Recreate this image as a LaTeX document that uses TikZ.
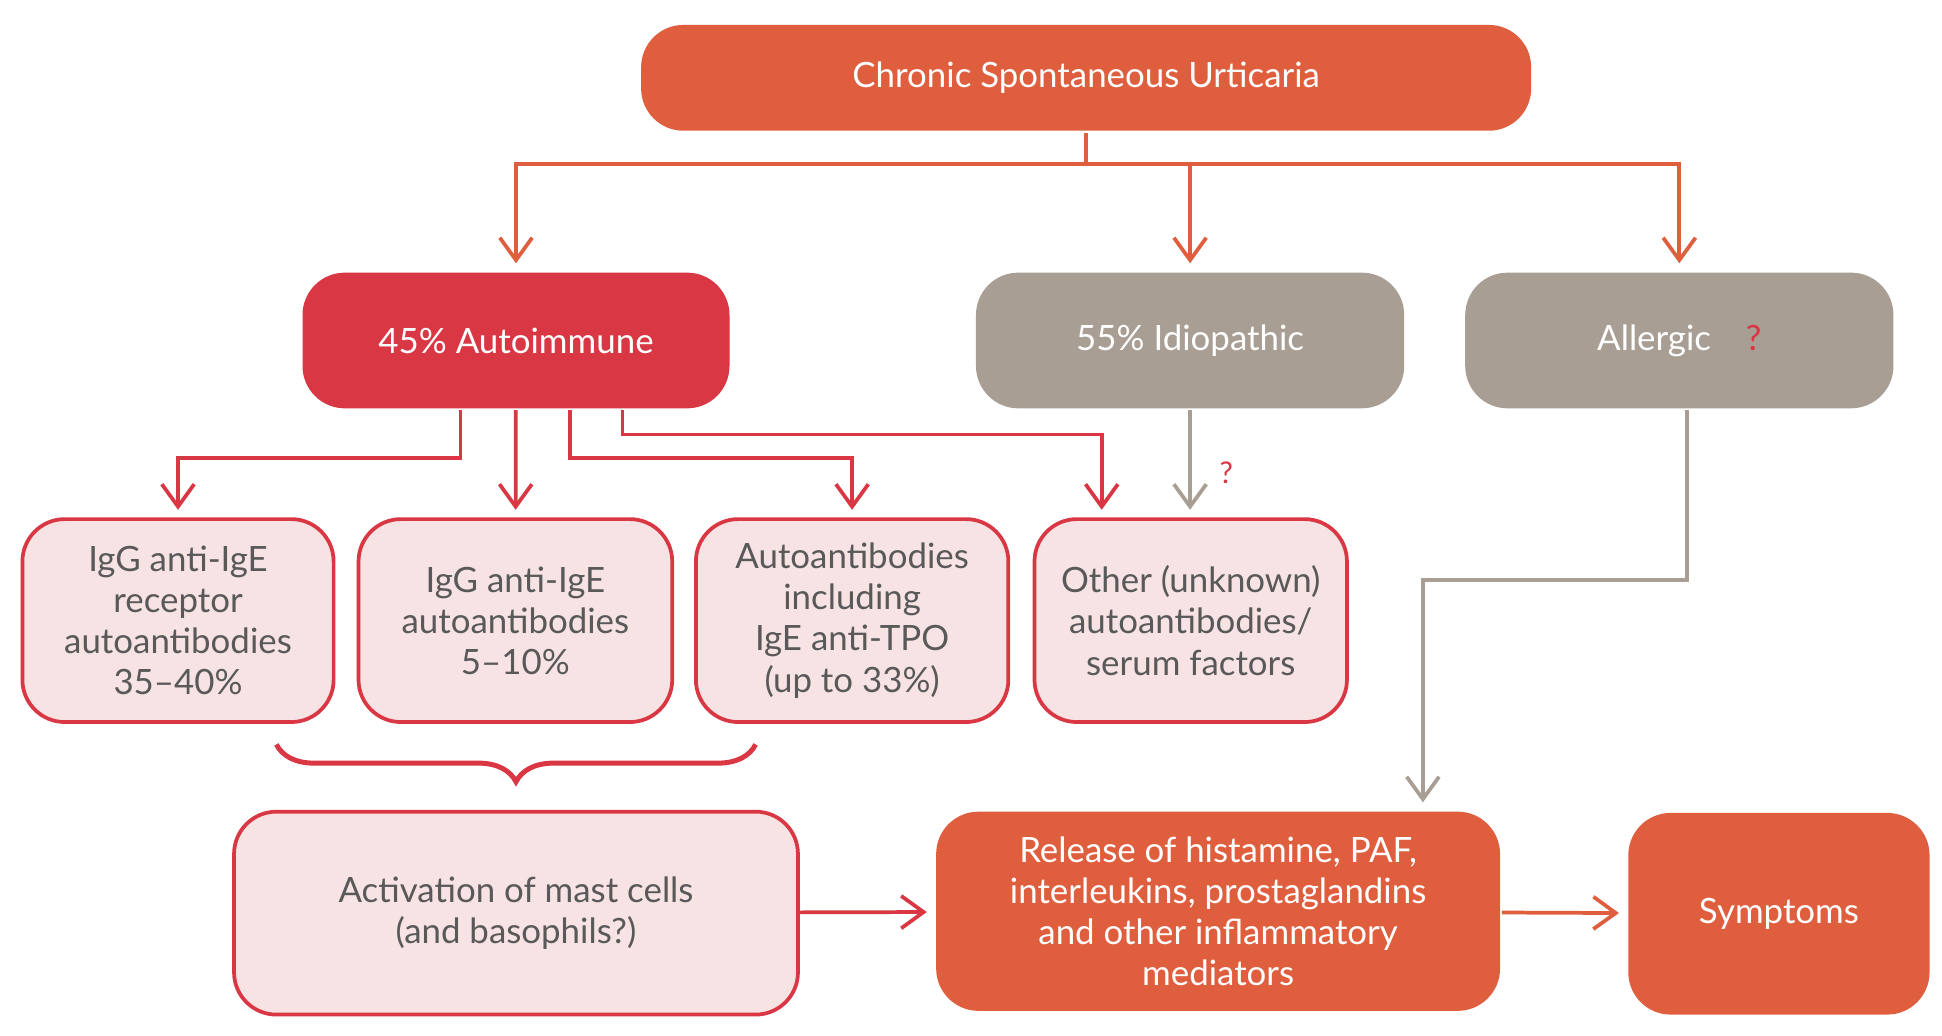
\documentclass[tikz,border=0pt]{standalone}
\usepackage{fontspec}
\setmainfont{Lato}
\usetikzlibrary{arrows.meta,decorations.pathreplacing}
\definecolor{csuorange}{RGB}{223,94,62}
\definecolor{csured}{RGB}{217,55,68}
\definecolor{csugray}{RGB}{168,158,147}
\definecolor{csupink}{RGB}{247,227,227}
\definecolor{csutext}{RGB}{89,89,89}
\tikzset{every picture/.style={line width=1.5pt}}

\begin{document}
\begin{tikzpicture}[x=0.5pt,y=0.5pt,yscale=-1,xscale=1,
	box/.style={rounded corners=17pt,align=center,font=\fontsize{14}{16.5}\selectfont,inner sep=2pt},
	hotbox/.style={box,fill=csuorange,text=white},
	redbox/.style={box,fill=csured,text=white},
	graybox/.style={box,fill=csugray,text=white},
	pinkbox/.style={box,fill=csupink,draw=csured,text=csutext},
	conn/.style={-{Straight Barb[length=9pt,width=13pt]},shorten >=3pt},
	]
	\useasboundingbox (0,0) rectangle (1560,832);

	% top box and the three branches
	\node [hotbox,minimum width=357.5pt,minimum height=42.5pt] (csu) at (872.5,62.5) {Chronic Spontaneous Urticaria};
	\node [redbox,minimum width=171.5pt,minimum height=54.5pt] (auto) at (414.5,273.5) {45\% Autoimmune};
	\node [graybox,minimum width=172pt,minimum height=54.5pt] (idio) at (956,273.5) {55\% Idiopathic};
	\node [graybox,minimum width=172pt,minimum height=54.5pt] (allg) at (1349,273.5) {Allergic\hspace{14pt}\textcolor{csured}{?}};

	% second row
	\node [pinkbox,minimum width=125pt,minimum height=81.5pt] (igr) at (143,498.5) {IgG anti-IgE\\receptor\\autoantibodies\\35–40\%};
	\node [pinkbox,minimum width=126pt,minimum height=81.5pt] (ige) at (414,498.5) {IgG anti-IgE\\autoantibodies\\5–10\%};
	\node [pinkbox,minimum width=125.5pt,minimum height=81.5pt] (tpo) at (684.5,498.5) {Autoantibodies\\including\\IgE anti-TPO\\(up to 33\%)};
	\node [pinkbox,minimum width=125.5pt,minimum height=81.5pt] (oth) at (956.5,498.5) {Other (unknown)\\autoantibodies/\\serum factors};

	% bottom row
	\node [pinkbox,minimum width=226.5pt,minimum height=81.5pt] (act) at (414.5,733.5) {Activation of mast cells\\(and basophils?)};
	\node [hotbox,minimum width=226.5pt,minimum height=80pt] (rel) at (978.5,732) {Release of histamine, PAF,\\interleukins, prostaglandins\\and other inflammatory\\mediators};
	\node [hotbox,minimum width=121pt,minimum height=81pt] (sym) at (1429,734) {Symptoms};

	% split points
	\coordinate (split) at (872.5,132);
	\coordinate (a1) at (370,368);
	\coordinate (a3) at (458,368);
	\coordinate (a4) at (500,349);
	\coordinate (a5) at (885,349);
	\coordinate (g1) at (1355,466);
	\coordinate (g2) at (1143,466);

	% connectors
	\draw [conn,csuorange] (csu) -- (split) -| (auto);
	\draw [conn,csuorange] (split) -| (idio);
	\draw [conn,csuorange] (split) -| (allg);
	\draw [conn,csured] (auto.south -| a1) -- (a1) -| (igr);
	\draw [conn,csured] (auto) -- (ige);
	\draw [conn,csured] (auto.south -| a3) -- (a3) -| (tpo);
	\draw [conn,csured] (auto.south -| a4) -- (a4) -- (a5) -- (a5 |- oth.north);
	\draw [conn,csugray] (idio) -- (oth.north -| idio);
	\node [text=csured,font=\fontsize{12}{12}\selectfont] (q) at (985,380) {?};
	\draw [conn,csugray] (allg.south -| g1) -- (g1) -- (g2) -- (g2 |- rel.north);
	\draw [conn,csured] (act) -- (rel);
	\draw [conn,csuorange] (rel) -- (sym);

	% brace
	\draw [csured,line width=2pt,decorate,decoration={brace,mirror,amplitude=15pt}] (222,598) -- (607,598);
\end{tikzpicture}
\end{document}
